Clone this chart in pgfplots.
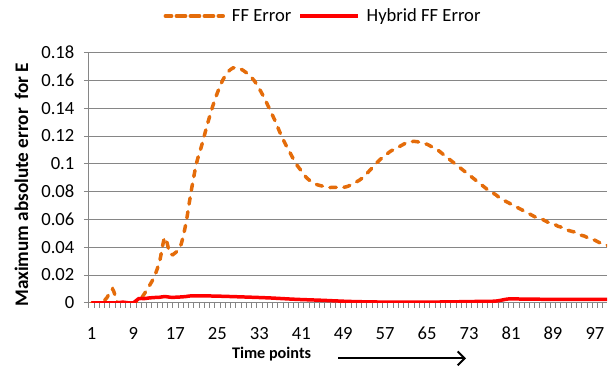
\documentclass[border=0pt]{standalone}
\usepackage{fontspec}
\setmainfont{Carlito}
\usepackage{pgfplots}
\pgfplotsset{compat=1.18}
\usetikzlibrary{arrows.meta}
\definecolor{ffor}{RGB}{228,108,10}
\definecolor{gridgray}{RGB}{134,134,134}
\begin{document}
\begin{tikzpicture}
\begin{axis}[
  at={(0,0)}, anchor=south west,
  scale only axis, width=519bp, height=250.6bp,
  xmin=0.5, xmax=99.3, ymin=0, ymax=0.18,
  axis x line*=bottom, axis y line*=left,
  axis line style={gridgray, line width=1bp},
  clip mode=individual,
  ytick={0,0.02,0.04,0.06,0.08,0.1,0.12,0.14,0.16,0.18},
  yticklabels={0,0.02,0.04,0.06,0.08,0.1,0.12,0.14,0.16,0.18},
  minor ytick={0,0.02,0.04,0.06,0.08,0.1,0.12,0.14,0.16,0.18},
  xtick={1,9,17,25,33,41,49,57,65,73,81,89,97},
  xticklabels={1,9,17,25,33,41,49,57,65,73,81,89,97},
  minor xtick={0.5,1.5,...,99.5},
  tick align=outside, major tick length=0pt, minor tick length=5bp,
  tick style={gridgray, line width=0.8bp},
  ymajorgrids, grid style={gridgray, line width=1bp},
  ticklabel style={font=\fontsize{18.7}{22}\selectfont},
  yticklabel style={xshift=-11bp},
  xticklabel style={yshift=-21bp},
  /pgf/number format/assume math mode=true,
  xlabel={Time points},
  xlabel style={at={(axis description cs:0.3526,-0.206)}, anchor=center, font=\bfseries\fontsize{16.3}{19}\selectfont},
  ylabel={Maximum absolute error\ \ for E},
  ylabel style={at={(axis description cs:-0.130,0.472)}, anchor=center, font=\bfseries\fontsize{19.3}{22}\selectfont},
  legend style={draw=none, fill=none, at={(axis description cs:0.452,1.146)}, anchor=center,
    legend columns=2, font=\fontsize{18.7}{22}\selectfont, column sep=5bp},
  legend image code/.code={\path (-11bp,0bp) -- (47bp,0bp); \draw[#1] (0bp,0bp) -- (44bp,0bp);},
]
\addplot[ffor, line width=3.5bp, line cap=round, dash pattern=on 6.3bp off 7.7bp, smooth] coordinates {
(1,0)(2,0)(3,0)(4,0.004)(5,0.010)(6,0)(7,0)(8,0)(9,0)(10,0.001)
(11,0.006)(12,0.012)(13,0.019)(14,0.030)(15,0.047)(16,0.035)(17,0.036)(18,0.041)(19,0.057)(20,0.080)
(21,0.100)(22,0.113)(23,0.127)(24,0.140)(25,0.151)(26,0.160)(27,0.166)(28,0.169)(29,0.169)(30,0.167)
(31,0.164)(32,0.160)(33,0.154)(34,0.147)(35,0.139)(36,0.131)(37,0.122)(38,0.114)(39,0.107)(40,0.100)
(41,0.095)(42,0.090)(43,0.087)(44,0.085)(45,0.084)(46,0.083)(47,0.083)(48,0.083)(49,0.083)(50,0.084)
(51,0.086)(52,0.088)(53,0.091)(54,0.095)(55,0.099)(56,0.103)(57,0.106)(58,0.109)(59,0.111)(60,0.113)
(61,0.115)(62,0.116)(63,0.116)(64,0.115)(65,0.114)(66,0.112)(67,0.110)(68,0.107)(69,0.104)(70,0.101)
(71,0.098)(72,0.095)(73,0.092)(74,0.089)(75,0.086)(76,0.083)(77,0.080)(78,0.078)(79,0.075)(80,0.073)
(81,0.071)(82,0.069)(83,0.067)(84,0.065)(85,0.063)(86,0.061)(87,0.060)(88,0.058)(89,0.057)(90,0.055)
(91,0.054)(92,0.052)(93,0.051)(94,0.049)(95,0.048)(96,0.046)(97,0.045)(98,0.043)(99,0.042)(100,0.040)
};
\addlegendentry{FF Error}
\addplot[red, line width=3.5bp, smooth] coordinates {
(1,0)(2,0)(3,0)(4,0)(5,0)(6,0)(7,0.0005)(8,0)(9,0)(10,0.003)
(11,0.003)(12,0.0035)(13,0.0038)(14,0.004)(15,0.0045)(16,0.004)(17,0.004)(18,0.0042)(19,0.0045)(20,0.005)
(22,0.005)(25,0.0048)(30,0.0042)(35,0.0035)(40,0.0025)(45,0.0018)(50,0.001)(55,0.0006)(60,0.0005)
(65,0.0005)(70,0.0007)(75,0.001)(78,0.0012)(80,0.0025)(81,0.0028)(85,0.0026)(90,0.0025)(95,0.0025)(100,0.0025)
};
\addlegendentry{Hybrid FF Error}
\draw[-{Straight Barb[length=7bp,width=14bp]}, line width=2bp] (rel axis cs:0.4817,-0.222) -- (rel axis cs:0.728,-0.222);
\end{axis}
\path (-89bp,-62.7bp) rectangle (519bp,303.3bp);
\end{tikzpicture}
\end{document}
